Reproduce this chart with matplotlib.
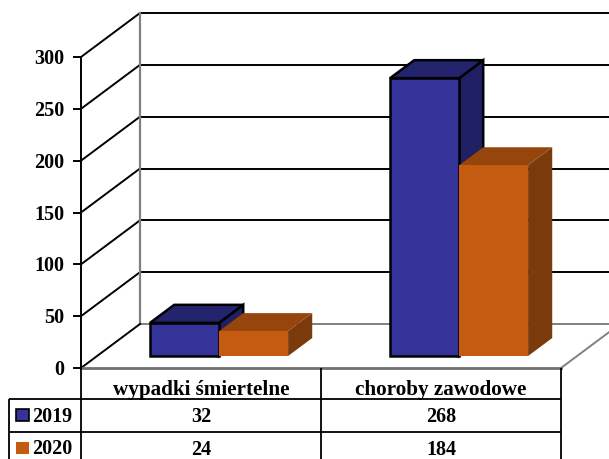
import matplotlib
matplotlib.use("Agg")
import matplotlib.pyplot as plt
from matplotlib.patches import Polygon, Rectangle

categories = ["wypadki śmiertelne", "choroby zawodowe"]
series_names = ["2019", "2020"]
values_2019 = [32, 268]
values_2020 = [24, 184]
y_ticks = [0, 50, 100, 150, 200, 250, 300]

W, H = 609, 459
BLUE = ("#333399", "#24246E", "#1F1F63")
ORANGE = ("#C55A11", "#96450C", "#7A3A0B")

plt.rcParams["font.family"] = ["Liberation Serif", "DejaVu Serif"]
plt.rcParams["font.weight"] = "bold"
fs = 14.5
fs_cat = 15.2

fig = plt.figure(figsize=(W / 100, H / 100), dpi=100)
ax = fig.add_axes([0, 0, 1, 1])
ax.axis("off")

# scales: category unit = 240 px, value unit = 311/300 px, front plane x -0.5..1.5 = 81..561 px
xu, yu = 240.0, 311.0 / 300
ax.set_xlim(-0.5 - 81 / xu, -0.5 + (W - 81) / xu)
ax.set_ylim(-(H - 368) / yu, 368 / yu)
DX, DY = 59 / xu, 44 / yu   # full depth of the 3-D box in data units


def P(x, v, d=0.0):
    return (x + d * DX, v + d * DY)


def py(px):  # table rows below the floor, expressed on the value scale
    return -(px - 368) / yu


def px_x(px):
    return -0.5 + (px - 81) / xu


# walls and grid
for v in y_ticks:
    back_col = "#808080" if v == 0 else "black"
    ax.plot(*zip(P(-0.5, v, 1), P(1.5 + 0.5, v, 1)), color=back_col, lw=1.4, zorder=1)
    if v > 0:
        ax.plot(*zip(P(-0.5, v), P(-0.5, v, 1)), color="black", lw=1.4, zorder=1)
    ax.plot(*zip(P(-0.5 - 7 / xu, v), P(-0.5, v)), color="black", lw=1.4, zorder=3)
    ax.text(-0.5 - 17 / xu, v - 2 / yu, str(v), ha="right", va="center", fontsize=fs, zorder=5)
ax.plot(*zip(P(-0.5, 0, 1), P(-0.5, 300, 1)), color="#808080", lw=1.6, zorder=1)
ax.plot(*zip(P(-0.5, 0), P(-0.5, 0, 1)), color="black", lw=1.4, zorder=2)
ax.plot(*zip(P(1.5, 0), P(1.5, 0, 1)), color="#808080", lw=1.4, zorder=2)
ax.plot(*zip(P(-0.5, 0), P(1.5, 0)), color="#707070", lw=2.0, zorder=2)
ax.plot(*zip(P(-0.5, 0), P(-0.5, 300)), color="black", lw=1.4, zorder=3)

# bars
BAR_W = 69 / xu
BAR_SHIFT = 2 / xu
D0, D1 = 12 / 44, 30 / 44


def bar3d(x0, v, cols, edge, z):
    x1 = x0 + BAR_W
    kw = dict(closed=True, zorder=z, edgecolor=edge or "none", linewidth=1.8 if edge else 0, joinstyle="miter")
    ax.add_patch(Polygon([P(x1, 0, D0), P(x1, 0, D1), P(x1, v, D1), P(x1, v, D0)], facecolor=cols[2], **kw))
    ax.add_patch(Polygon([P(x0, v, D0), P(x1, v, D0), P(x1, v, D1), P(x0, v, D1)], facecolor=cols[1], **kw))
    ax.add_patch(Polygon([P(x0, 0, D0), P(x1, 0, D0), P(x1, v, D0), P(x0, v, D0)], facecolor=cols[0], **kw))


for i in range(len(categories)):
    bar3d(i - BAR_W + BAR_SHIFT, values_2019[i], BLUE, "black", 4 + i)
    bar3d(i + BAR_SHIFT, values_2020[i], ORANGE, None, 4.5 + i)

# data table
lk = dict(color="black", lw=1.3, zorder=6, solid_capstyle="butt")
tb, r1, r2 = py(H + 2), py(399), py(432)
left = px_x(9)
ax.plot([left, 1.5], [r1, r1], **lk)
ax.plot([left, 1.5], [r2, r2], **lk)
ax.plot([left, left], [r1, tb], **lk)
for xv in (-0.5, 0.5, 1.5):
    ax.plot([xv, xv], [0, tb], **lk)

for i, c in enumerate(categories):
    ax.text(i, py(390), c, ha="center", va="center", fontsize=fs_cat, zorder=7)
    ax.text(i, py(417.5), str(values_2019[i]), ha="center", va="center", fontsize=fs, zorder=7)
    ax.text(i, py(450), str(values_2020[i]), ha="center", va="center", fontsize=fs, zorder=7)

for name, row, col, edge in zip(series_names, (415, 448), (BLUE[0], ORANGE[0]), ("black", "none")):
    ax.add_patch(Rectangle((px_x(16), py(row + 6)), 12.5 / xu, 12 / yu, facecolor=col,
                           edgecolor=edge, linewidth=1.2, zorder=7))
    ax.text(px_x(32), py(row + 1.5), name, ha="left", va="center", fontsize=fs, zorder=7)

fig.savefig("out.png", dpi=100)
